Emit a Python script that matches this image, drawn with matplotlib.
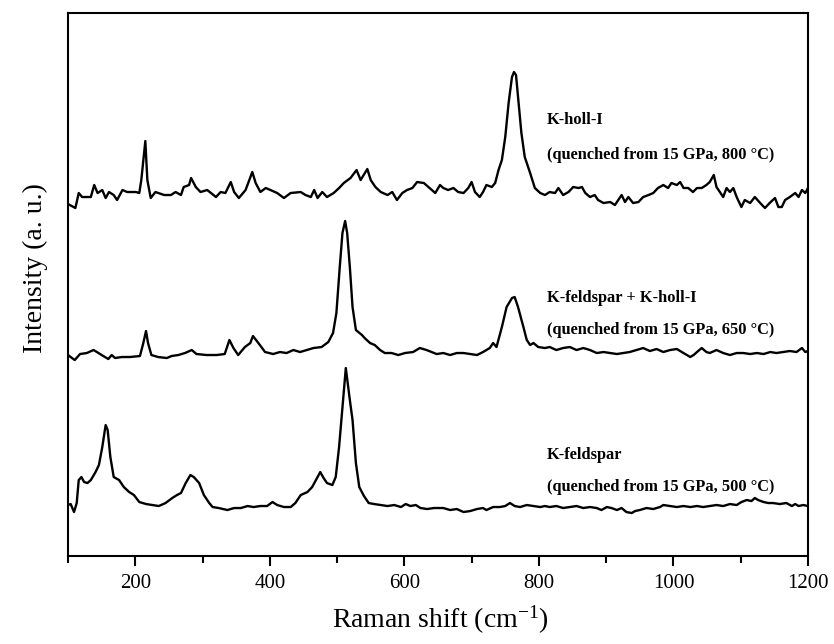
import numpy as np
import matplotlib
matplotlib.use("Agg")
import matplotlib.pyplot as plt
from matplotlib.ticker import MultipleLocator

#------------------------------------------------Spectra (Raman shift in cm-1, intensity in a.u., offset stacked)

# K-holl-I, quenched from 15 GPa, 800 C
kholl_x = [100, 111, 116, 121, 134, 139, 144, 151, 156, 161, 168, 173, 181, 188, 201, 206, 209, 215,
           218, 223, 230, 243, 253, 260, 268, 272, 280, 283, 290, 297, 307, 320, 327, 334, 342, 347,
           354, 364, 374, 379, 386, 394, 401, 411, 421, 431, 446, 453, 461, 466, 471, 478, 485, 495,
           503, 510, 520, 529, 535, 545, 550, 557, 565, 575, 582, 589, 597, 604, 612, 619, 629, 646,
           653, 658, 665, 673, 680, 688, 695, 700, 705, 712, 717, 722, 730, 735, 740, 745, 750, 755,
           760, 763, 766, 769, 774, 779, 787, 794, 802, 809, 816, 824, 829, 836, 844, 851, 859, 864,
           869, 876, 883, 888, 896, 906, 913, 918, 923, 928, 933, 940, 948, 955, 963, 970, 977, 985,
           992, 997, 1005, 1010, 1015, 1022, 1029, 1035, 1042, 1049, 1054, 1060, 1064, 1069, 1074,
           1079, 1084, 1089, 1094, 1101, 1106, 1114, 1121, 1129, 1136, 1143, 1151, 1156, 1161, 1166,
           1173, 1181, 1186, 1191, 1196, 1200]
kholl_y = [352, 348, 363, 359, 359, 371, 363, 366, 358, 364, 361, 356, 366, 364, 364, 363, 376, 415,
           376, 358, 364, 361, 361, 364, 361, 369, 371, 378, 369, 364, 366, 359, 364, 363, 374, 364,
           358, 366, 384, 373, 364, 368, 366, 363, 358, 363, 364, 361, 359, 366, 358, 364, 359, 363,
           368, 373, 378, 386, 376, 387, 376, 369, 364, 361, 364, 356, 363, 366, 368, 374, 373, 363,
           371, 368, 366, 368, 364, 363, 368, 374, 364, 359, 364, 371, 369, 373, 386, 396, 419, 453,
           479, 484, 481, 459, 423, 399, 383, 368, 363, 361, 364, 363, 368, 361, 364, 369, 368, 369,
           363, 359, 361, 356, 353, 354, 351, 356, 361, 354, 359, 353, 354, 359, 361, 363, 368, 371,
           368, 373, 371, 374, 368, 368, 364, 368, 368, 371, 374, 381, 369, 364, 359,
           368, 364, 368, 359, 349, 356, 353, 359, 353, 348, 353, 358, 349, 349, 356,
           359, 363, 359, 366, 363, 368]

# K-feldspar + K-holl-I, quenched from 15 GPa, 650 C
mix_x = [100, 110, 118, 128, 138, 143, 150, 160, 165, 170, 180, 192, 207, 212, 216, 219, 224, 234,
         247, 254, 264, 274, 284, 291, 306, 321, 333, 340, 346, 353, 363, 371, 375, 383, 393, 405,
         415, 425, 435, 445, 455, 465, 477, 487, 494, 499, 504, 508, 512, 515, 519, 523, 528, 537,
         541, 549, 556, 564, 571, 581, 591, 601, 613, 623, 633, 648, 658, 668, 678, 688, 698, 708,
         717, 727, 732, 737, 745, 752, 760, 764, 769, 777, 782, 787, 792, 799, 809, 816, 826, 836,
         846, 856, 866, 876, 886, 896, 906, 916, 925, 935, 945, 955, 965, 975, 985, 995, 1005, 1015,
         1025, 1030, 1035, 1042, 1049, 1054, 1064, 1074, 1084, 1094, 1104, 1114, 1124, 1134, 1144,
         1153, 1163, 1173, 1183, 1191, 1196, 1200]
mix_y = [201, 196, 202, 203, 206, 204, 201, 197, 201, 198, 199, 199, 200, 213, 225, 213, 201, 199,
         198, 200, 201, 203, 206, 202, 201, 201, 202, 216, 208, 201, 209, 213, 220, 213, 204, 202,
         204, 203, 206, 204, 206, 208, 209, 214, 223, 243, 289, 323, 335, 323, 289, 249, 226, 221,
         218, 213, 211, 206, 203, 203, 201, 203, 204, 208, 206, 202, 203, 201, 203, 203, 202, 201,
         204, 208, 213, 209, 229, 249, 258, 259, 249, 229, 216, 211, 213, 209, 208, 209, 206, 208,
         209, 206, 208, 206, 203, 204, 203, 202, 203, 204, 206, 208, 205, 207, 204, 206, 207, 203,
         199, 201, 204, 208, 204, 203, 206, 203, 201, 203, 203, 202, 203, 202, 204,
         203, 204, 205, 204, 208, 204, 205]

# K-feldspar, quenched from 15 GPa, 500 C
kfs_x = [100, 104, 109, 113, 116, 120, 124, 129, 134, 141, 146, 151, 156, 159, 163, 168, 176, 183,
         191, 198, 206, 216, 225, 235, 245, 255, 262, 268, 275, 282, 287, 295, 302, 310, 315, 324,
         337, 347, 357, 367, 376, 386, 396, 404, 411, 421, 431, 438, 446, 456, 463, 471, 475, 480,
         485, 493, 498, 503, 508, 513, 516, 519, 523, 528, 533, 540, 547, 555, 565, 575, 585, 595,
         602, 609, 617, 624, 634, 644, 658, 668, 678, 688, 698, 708, 717, 722, 732, 742, 750, 757,
         764, 772, 782, 792, 802, 809, 816, 826, 836, 846, 856, 866, 876, 886, 893, 901, 908, 916,
         923, 930, 938, 943, 950, 960, 970, 980, 985, 995, 1005, 1015, 1025, 1035, 1044, 1054,
         1064, 1074, 1084, 1094, 1101, 1109, 1116, 1121, 1126, 1134, 1141, 1148, 1158, 1168, 1176,
         1181, 1186, 1193, 1200]
kfs_y = [51, 52, 44, 53, 76, 79, 74, 73, 76, 84, 91, 109, 131, 126, 99, 79, 76, 69,
         64, 61, 54, 52, 51, 50, 53, 58, 61, 63, 73, 81, 79, 73, 61, 53, 49, 48,
         46, 48, 48, 50, 49, 50, 50, 54, 51, 49, 49, 53, 61, 64, 69, 79, 84, 78,
         73, 71, 79, 109, 149, 188, 172, 156, 136, 93, 69, 60, 53, 52, 51, 50, 51, 49,
         52, 50, 51, 48, 47, 48, 48, 46, 47, 44, 45, 47, 48, 46, 49, 49, 50, 53,
         50, 49, 51, 50, 49, 50, 49, 50, 48, 49, 50, 48, 49, 48, 46, 49, 48, 46,
         48, 44, 43, 45, 46, 48, 47, 49, 51, 50, 49, 50, 49, 50, 49, 50,
         51, 50, 52, 51, 54, 56, 55, 58, 56, 54, 53, 53, 52, 53, 50,
         52, 50, 51, 50]

# labels placed beside each trace
label_x = 812
label_names = ["K-holl-I", "K-feldspar + K-holl-I", "K-feldspar"]
label_conds = ["(quenched from 15 GPa, 800 \u00b0C)",
               "(quenched from 15 GPa, 650 \u00b0C)",
               "(quenched from 15 GPa, 500 \u00b0C)"]
name_y = [436, 258, 101]
cond_y = [401, 226, 69]

#------------------------------------------------Affichage

plt.rcParams['font.family'] = ['Liberation Serif', 'DejaVu Serif']
plt.rcParams['mathtext.fontset'] = 'custom'
plt.rcParams['mathtext.rm'] = 'Liberation Serif'

fig = plt.figure(figsize=(8.34, 6.44), dpi=100)
ax = fig.add_axes([0.0815, 0.1366, 0.8873, 0.8432])

for xs, ys in [(kholl_x, kholl_y), (mix_x, mix_y), (kfs_x, kfs_y)]:
    ax.plot(xs, ys, color='black', linewidth=1.7)

for name, cond, yn, yc in zip(label_names, label_conds, name_y, cond_y):
    ax.text(label_x, yn, name, fontsize=11.8, fontweight='bold', va='center', ha='left')
    ax.text(label_x, yc, cond, fontsize=11.8, fontweight='bold', va='center', ha='left')

ax.set_xlim(100, 1200)
ax.set_ylim(0, 543)
ax.xaxis.set_major_locator(MultipleLocator(200))
ax.xaxis.set_minor_locator(MultipleLocator(100))
ax.set_yticks([])
ax.tick_params(axis='x', which='major', direction='out', length=7, width=1.5,
               labelsize=15, pad=6)
ax.tick_params(axis='x', which='minor', direction='out', length=5, width=1.5)
for sp in ax.spines.values():
    sp.set_linewidth(1.5)

ax.set_xlabel('Raman shift (cm$\\mathregular{^{-1}}$)', fontsize=20)
ax.set_ylabel('Intensity (a. u.)', fontsize=20)
ax.xaxis.set_label_coords(0.503, -0.088)
ax.yaxis.set_label_coords(-0.027, 0.53)

fig.savefig('out.png', dpi=100)
